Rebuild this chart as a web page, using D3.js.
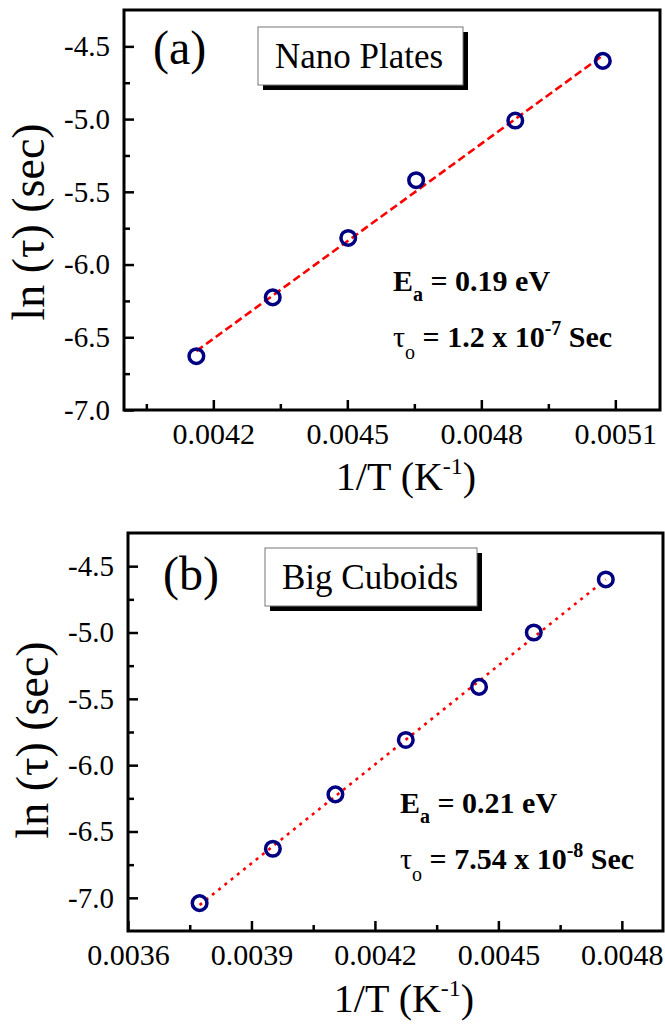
<!DOCTYPE html>
<html>
<head>
<meta charset="utf-8">
<script src="https://cdn.jsdelivr.net/npm/d3@7"></script>
<style>
  body { margin: 0; background: #fff; }
  svg text { font-family: "Liberation Serif", "Times New Roman", Times, serif; fill: #000; }
  .domain { display: none; }
  .tickLab text { font-family: "Liberation Serif", serif !important; }
</style>
</head>
<body>
<div id="chart"></div>
<script>
// panel (a) Nano Plates
var xA = [0.004162, 0.004333, 0.004502, 0.004654, 0.004876, 0.005072];
var yA = [-6.63, -6.226, -5.817, -5.42, -5.01, -4.60];
var fitXA = [0.004162, 0.005072];
var fitYA = [-6.595, -4.562];
var xTicksA = [0.0042, 0.0045, 0.0048, 0.0051];
var xMinorA = [0.00405, 0.00435, 0.00465, 0.00495];

// panel (b) Big Cuboids
var xB = [0.003774, 0.003952, 0.004104, 0.004275, 0.004453, 0.004586, 0.004761];
var yB = [-7.04, -6.63, -6.22, -5.81, -5.41, -5.00, -4.60];
var fitXB = [0.003774, 0.004761];
var fitYB = [-7.054, -4.600];
var xTicksB = [0.0036, 0.0039, 0.0042, 0.0045, 0.0048];
var xMinorB = [0.00375, 0.00405, 0.00435, 0.00465];

// shared y ticks
var yTicks = [-7.0, -6.5, -6.0, -5.5, -5.0, -4.5];
var yMinor = [-6.75, -6.25, -5.75, -5.25, -4.75];

var svg = d3.select("#chart").append("svg")
  .attr("width", 665)
  .attr("height", 1024);

function drawPanel(p) {
  var x = d3.scaleLinear().domain(p.xDomain).range([p.left, p.right]);
  var y = d3.scaleLinear().domain(p.yDomain).range([p.bottom, p.top]);
  var g = svg.append("g");

  // minor ticks first, then majors with labels (ticks point inward)
  g.append("g").attr("transform", `translate(0,${p.bottom})`)
    .call(d3.axisBottom(x).tickValues(p.xMinor).tickSize(-6).tickFormat(""));
  g.append("g").attr("transform", `translate(${p.left},0)`)
    .call(d3.axisLeft(y).tickValues(yMinor).tickSize(-6).tickFormat(""));

  var xAx = g.append("g").attr("class", "tickLab").attr("transform", `translate(0,${p.bottom})`)
    .call(d3.axisBottom(x).tickValues(p.xTicks).tickSize(-10).tickPadding(13).tickFormat(d => d.toFixed(4)));
  xAx.selectAll("text").style("font-size", "30px");

  var yAx = g.append("g").attr("class", "tickLab").attr("transform", `translate(${p.left},0)`)
    .call(d3.axisLeft(y).tickValues(yTicks).tickSize(-10).tickPadding(14).tickFormat(d => d.toFixed(1)));
  yAx.selectAll("text").style("font-size", "29px");

  g.selectAll(".tick line").attr("stroke", "#000").attr("stroke-width", 2.5);

  // frame
  g.append("rect")
    .attr("x", p.left).attr("y", p.top)
    .attr("width", p.right - p.left).attr("height", p.bottom - p.top)
    .attr("fill", "none").attr("stroke", "#000").attr("stroke-width", 3);

  // fit line
  var line = d3.line().x(d => x(d[0])).y(d => y(d[1]));
  g.append("path")
    .datum(d3.zip(p.fitX, p.fitY))
    .attr("d", line)
    .attr("fill", "none")
    .attr("stroke", "#ff0000")
    .attr("stroke-width", 2.6)
    .attr("stroke-dasharray", p.dash);

  // open circles
  g.selectAll("circle")
    .data(d3.zip(p.xs, p.ys))
    .enter().append("circle")
    .attr("cx", d => x(d[0]))
    .attr("cy", d => y(d[1]))
    .attr("r", 7.3)
    .attr("fill", "none")
    .attr("stroke", "#000080")
    .attr("stroke-width", 3.5);

  // panel letter
  g.append("text").attr("x", p.letterX).attr("y", p.letterY)
    .style("font-size", "48px").text(p.letter);

  // legend box with shadow
  var b = p.box;
  g.append("rect").attr("x", b[0] + 5).attr("y", b[1] + 5)
    .attr("width", b[2] - b[0]).attr("height", b[3] - b[1]).attr("fill", "#000");
  g.append("rect").attr("x", b[0]).attr("y", b[1])
    .attr("width", b[2] - b[0]).attr("height", b[3] - b[1])
    .attr("fill", "#fff").attr("stroke", "#777").attr("stroke-width", 1);
  g.append("text").attr("x", b[0] + 17).attr("y", b[3] - 17)
    .style("font-size", "35px").text(p.name);

  // activation energy text
  var t1 = g.append("text").attr("x", p.annX).attr("y", p.annY)
    .style("font-size", "30px").style("font-weight", "bold");
  t1.append("tspan").text("E");
  t1.append("tspan").attr("dy", 10).style("font-size", "20px").text("a");
  t1.append("tspan").attr("dy", -10).text(" = " + p.ea + " eV");

  var t2 = g.append("text").attr("x", p.annX).attr("y", p.annY + 56)
    .style("font-size", "30px").style("font-weight", "bold");
  t2.append("tspan").style("font-weight", "normal").text("\u03c4");
  t2.append("tspan").attr("dy", 12).style("font-size", "20px").style("font-weight", "normal").text("o");
  t2.append("tspan").attr("dy", -12).text(" = " + p.tau + " x 10");
  t2.append("tspan").attr("dy", -12).style("font-size", "20px").text(p.exp);
  t2.append("tspan").attr("dy", 12).text(" Sec");

  // axis titles
  g.append("text")
    .attr("transform", `translate(${p.yLabX},${p.yLabY}) rotate(-90)`)
    .attr("text-anchor", "middle")
    .style("font-size", "46px")
    .text("ln (\u03c4) (sec)");

  var xt = g.append("text").attr("x", p.xLabX).attr("y", p.xLabY)
    .attr("text-anchor", "middle").style("font-size", "40px");
  xt.append("tspan").text("1/T (K");
  xt.append("tspan").attr("dy", -16).style("font-size", "24px").text("-1");
  xt.append("tspan").attr("dy", 16).text(")");
}

drawPanel({
  left: 124, right: 660, top: 10, bottom: 410,
  xDomain: [0.0040, 0.0052], yDomain: [-7.0, -4.25],
  xTicks: xTicksA, xMinor: xMinorA,
  xs: xA, ys: yA, fitX: fitXA, fitY: fitYA, dash: "8,4",
  letter: "(a)", letterX: 153, letterY: 64,
  box: [258, 27, 463, 85], name: "Nano Plates",
  annX: 393, annY: 291, ea: "0.19", tau: "1.2", exp: "-7",
  yLabX: 44, yLabY: 222, xLabX: 406, xLabY: 490
});

drawPanel({
  left: 128, right: 663, top: 533, bottom: 931,
  xDomain: [0.0036, 0.0049], yDomain: [-7.25, -4.25],
  xTicks: xTicksB, xMinor: xMinorB,
  xs: xB, ys: yB, fitX: fitXB, fitY: fitYB, dash: "3,5",
  letter: "(b)", letterX: 163, letterY: 590,
  box: [265, 548, 477, 606], name: "Big Cuboids",
  annX: 400, annY: 813, ea: "0.21", tau: "7.54", exp: "-8",
  yLabX: 48, yLabY: 740, xLabX: 404, xLabY: 1012
});
</script>
</body>
</html>
